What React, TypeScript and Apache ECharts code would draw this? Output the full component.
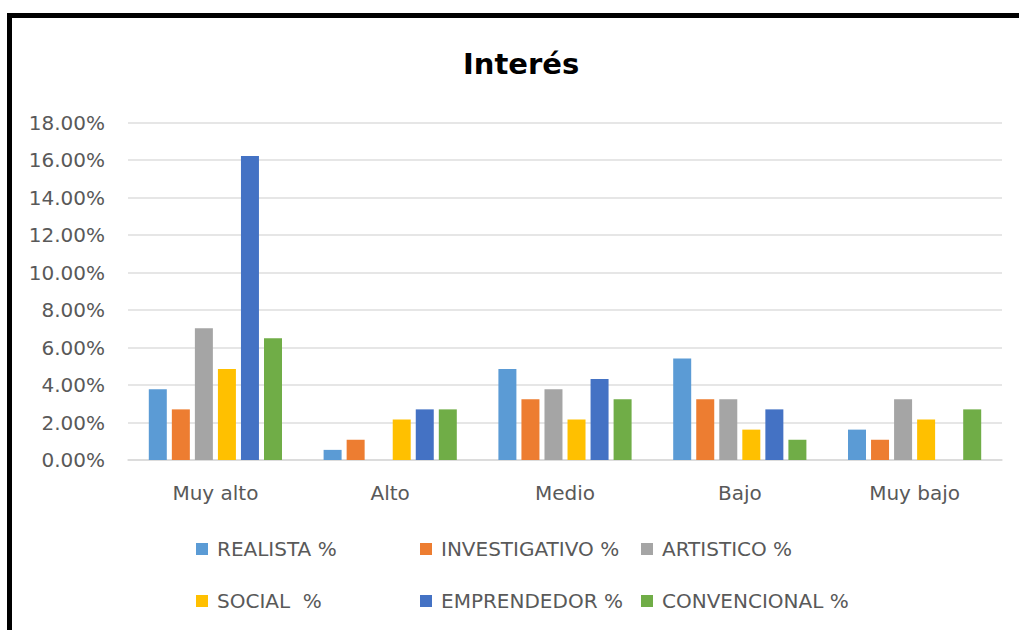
import React, { useEffect, useRef } from "react";
import * as echarts from "echarts";

const categories = ["Muy alto", "Alto", "Medio", "Bajo", "Muy bajo"];
const seriesNames = [
  "REALISTA %",
  "INVESTIGATIVO %",
  "ARTISTICO %",
  "SOCIAL  %",
  "EMPRENDEDOR %",
  "CONVENCIONAL %",
];
const colors = ["#5B9BD5", "#ED7D31", "#A5A5A5", "#FFC000", "#4472C4", "#70AD47"];

const realista = [3.78, 0.54, 4.86, 5.41, 1.62];
const investigativo = [2.7, 1.08, 3.24, 3.24, 1.08];
const artistico = [7.03, 0, 3.78, 3.24, 3.24];
const social = [4.86, 2.16, 2.16, 1.62, 2.16];
const emprendedor = [16.22, 2.7, 4.32, 2.7, 0];
const convencional = [6.49, 2.7, 3.24, 1.08, 2.7];

const seriesValues = [realista, investigativo, artistico, social, emprendedor, convencional];

const legendPositions = [
  { left: 196, top: 539 },
  { left: 420, top: 539 },
  { left: 641, top: 539 },
  { left: 196, top: 591 },
  { left: 420, top: 591 },
  { left: 641, top: 591 },
];

const FONT = "DejaVu Sans";
const TEXT_COLOR = "#595959";

export default function App() {
  const ref = useRef<HTMLDivElement>(null);

  useEffect(() => {
    document.body.style.margin = "0";
    if (!ref.current) return;
    const chart = echarts.init(ref.current, undefined, { renderer: "svg" });
    chart.setOption({
      animation: false,
      backgroundColor: "#ffffff",
      title: {
        text: "Interés",
        left: 458,
        top: 44,
        textStyle: {
          fontFamily: FONT,
          fontSize: 29,
          fontWeight: "bold",
          color: "#000000",
        },
      },
      legend: seriesNames.map((name, i) => ({
        data: [name],
        left: legendPositions[i].left,
        top: legendPositions[i].top,
        icon: "rect",
        itemWidth: 12,
        itemHeight: 12,
        padding: 0,
        selectedMode: false,
        textStyle: { fontFamily: FONT, fontSize: 20, color: TEXT_COLOR, padding: [0, 0, 0, 4] },
      })),
      grid: {
        left: 128,
        right: 17,
        top: 122.5,
        bottom: 170,
        containLabel: false,
      },
      xAxis: {
        type: "category",
        data: categories,
        axisLine: { lineStyle: { color: "#D9D9D9", width: 1.5 } },
        axisTick: { show: false },
        axisLabel: {
          fontFamily: FONT,
          fontSize: 20,
          color: TEXT_COLOR,
          margin: 23,
        },
      },
      yAxis: {
        type: "value",
        min: 0,
        max: 18,
        interval: 2,
        axisLine: { show: false },
        axisTick: { show: false },
        splitLine: { lineStyle: { color: "#DEDEDE", width: 1.5 } },
        axisLabel: {
          fontFamily: FONT,
          fontSize: 20,
          color: TEXT_COLOR,
          margin: 23,
          formatter: (v: number) => v.toFixed(2) + "%",
        },
      },
      series: seriesNames.map((name, i) => ({
        name,
        type: "bar",
        data: seriesValues[i],
        barWidth: 18,
        barGap: "28%",
        itemStyle: { color: colors[i] },
      })),
      graphic: [
        {
          type: "rect",
          shape: { x: 9.5, y: 15.5, width: 1100, height: 700 },
          style: { fill: "none", stroke: "#000000", lineWidth: 5 },
          z: 100,
        },
      ],
    });
    return () => chart.dispose();
  }, []);

  return <div ref={ref} style={{ width: 1019, height: 630 }} />;
}
